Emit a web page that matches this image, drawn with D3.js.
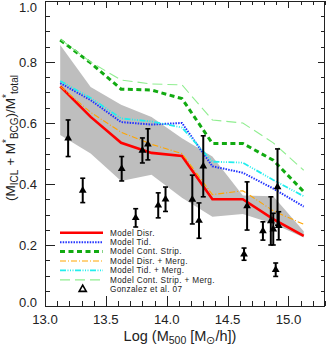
<!DOCTYPE html>
<html>
<head>
<meta charset="utf-8">
<script src="https://cdn.jsdelivr.net/npm/d3@7"></script>
<style>
  html, body { margin: 0; padding: 0; background: #fff; }
  svg { display: block; font-family: "Liberation Sans", Arial, sans-serif; }
</style>
</head>
<body>
<svg id="chart" width="326" height="344"></svg>
<script>
// halo mass bins (log M500)
const massBins = [13.125, 13.375, 13.625, 13.875, 14.125, 14.375, 14.625, 14.875, 15.125];

// model curves
const modelDisr      = [0.720, 0.620, 0.535, 0.502, 0.492, 0.350, 0.350, 0.285, 0.230];
const modelTid       = [0.731, 0.675, 0.603, 0.595, 0.600, 0.458, 0.437, 0.385, 0.326];
const modelCont      = [0.872, 0.797, 0.711, 0.708, 0.680, 0.533, 0.533, 0.478, 0.375];
const modelDisrMerg  = [0.720, 0.635, 0.570, 0.530, 0.500, 0.365, 0.378, 0.312, 0.268];
const modelTidMerg   = [0.738, 0.682, 0.615, 0.605, 0.585, 0.473, 0.470, 0.413, 0.360];
const modelContMerg  = [0.875, 0.800, 0.741, 0.728, 0.725, 0.610, 0.600, 0.535, 0.445];

// scatter band
const bandUpper = [0.856, 0.718, 0.660, 0.620, 0.550, 0.490, 0.362, 0.360, 0.245];
const bandLower = [0.561, 0.500, 0.410, 0.430, 0.355, 0.293, 0.302, 0.270, 0.225];

// Gonzalez et al. 07 observations
const obsMass = [13.19, 13.31, 13.63, 13.745, 13.80, 13.845, 13.93, 13.99, 14.21, 14.265,
                 14.30, 14.635, 14.66, 14.79, 14.855, 14.875, 14.895, 14.91, 14.92];
const obsFrac = [0.550, 0.379, 0.450, 0.289, 0.510, 0.530, 0.330, 0.350, 0.349, 0.280,
                 0.458, 0.170, 0.328, 0.246, 0.279, 0.252, 0.119, 0.390, 0.263];
const obsErr  = [0.060, 0.040, 0.040, 0.030, 0.041, 0.051, 0.041, 0.040, 0.080, 0.058,
                 0.100, 0.020, 0.079, 0.030, 0.079, 0.052, 0.022, 0.125, 0.046];

const xMajor = [13.0, 13.5, 14.0, 14.5, 15.0];
const yMajor = [0.0, 0.2, 0.4, 0.6, 0.8, 1.0];

const series = [
  { name: 'Model Disr.',               values: modelDisr,     color: '#ff0000', width: 2.6, dash: null },
  { name: 'Model Tid.',                values: modelTid,      color: '#2233ff', width: 2,   dash: '1.5,1.2' },
  { name: 'Model Cont. Strip.',        values: modelCont,     color: '#11aa11', width: 3,   dash: '5,3.5' },
  { name: 'Model Disr. + Merg.',       values: modelDisrMerg, color: '#ffa500', width: 1.1, dash: '6,2,1,2' },
  { name: 'Model Tid. + Merg.',        values: modelTidMerg,  color: '#22eeee', width: 1.8, dash: '6,1.5,1,1.5,1,1.5,1,1.5' },
  { name: 'Model Cont. Strip. + Merg.',values: modelContMerg, color: '#90ee90', width: 1.1, dash: '10,5' }
];

const svg = d3.select('#chart');
const plotLeft = 45, plotRight = 325, plotTop = 1, plotBottom = 306;
const ink = '#222';

const x = d3.scaleLinear().domain([13.0, 15.3]).range([plotLeft, plotRight]);
const y = d3.scaleLinear().domain([0, 1]).range([plotBottom, plotTop]);

// 灰色带
const band = massBins.map((m, i) => ({ m, lo: bandLower[i], hi: bandUpper[i] }));
svg.append('path')
  .datum(band)
  .attr('fill', '#bebebe')
  .attr('d', d3.area().x(d => x(d.m)).y0(d => y(d.lo)).y1(d => y(d.hi)));

// 模型曲线
const line = d3.line().x(d => x(d.m)).y(d => y(d.v));
series.forEach(s => {
  svg.append('path')
    .datum(massBins.map((m, i) => ({ m, v: s.values[i] })))
    .attr('fill', 'none')
    .attr('stroke', s.color)
    .attr('stroke-width', s.width)
    .attr('stroke-dasharray', s.dash)
    .attr('d', line);
});

// 观测点 + 误差棒
const obs = obsMass.map((m, i) => ({ m, f: obsFrac[i], e: obsErr[i] }));
const obsG = svg.append('g');
obsG.selectAll('line.err')
  .data(obs).join('line')
  .attr('class', 'err')
  .attr('x1', d => x(d.m)).attr('x2', d => x(d.m))
  .attr('y1', d => y(d.f - d.e)).attr('y2', d => y(d.f + d.e))
  .attr('stroke', '#000').attr('stroke-width', 2);
['lo', 'hi'].forEach(k => {
  obsG.selectAll('line.cap-' + k)
    .data(obs).join('line')
    .attr('class', 'cap-' + k)
    .attr('x1', d => x(d.m) - 2.5).attr('x2', d => x(d.m) + 2.5)
    .attr('y1', d => y(k === 'lo' ? d.f - d.e : d.f + d.e))
    .attr('y2', d => y(k === 'lo' ? d.f - d.e : d.f + d.e))
    .attr('stroke', '#000').attr('stroke-width', 1.6);
});
const tri = d3.symbol().type(d3.symbolTriangle).size(26);
obsG.selectAll('path.tri')
  .data(obs).join('path')
  .attr('class', 'tri')
  .attr('transform', d => `translate(${x(d.m)},${y(d.f)})`)
  .attr('d', tri)
  .attr('fill', '#000');

// 坐标框和刻度
const frame = svg.append('g').attr('stroke', ink).attr('stroke-width', 1).attr('fill', 'none');
frame.append('rect')
  .attr('x', plotLeft + 0.5).attr('y', plotTop + 0.5)
  .attr('width', plotRight - plotLeft - 1).attr('height', plotBottom - plotTop);

const xMinor = d3.range(13.0, 15.301, 0.1).filter(v => !xMajor.some(t => Math.abs(t - v) < 1e-6));
const yMinor = d3.range(0, 1.001, 0.05).filter(v => !yMajor.some(t => Math.abs(t - v) < 1e-6));

const xTicks = xMajor.map(v => ({ v, big: true })).concat(xMinor.map(v => ({ v, big: false })));
const yTicks = yMajor.map(v => ({ v, big: true })).concat(yMinor.map(v => ({ v, big: false })));

xTicks.forEach(t => {
  const px = Math.round(x(t.v)) + 0.5;
  frame.append('line').attr('x1', px).attr('x2', px)
    .attr('y1', plotBottom).attr('y2', plotBottom - (t.big ? 10 : 5));
  frame.append('line').attr('x1', px).attr('x2', px)
    .attr('y1', plotTop).attr('y2', plotTop + (t.big ? 7 : 4));
});
yTicks.forEach(t => {
  const py = Math.round(y(t.v)) + 0.5;
  frame.append('line').attr('y1', py).attr('y2', py)
    .attr('x1', plotLeft).attr('x2', plotLeft + (t.big ? 10 : 5));
  frame.append('line').attr('y1', py).attr('y2', py)
    .attr('x1', plotRight).attr('x2', plotRight - (t.big ? 7 : 4));
});

// 刻度标签
svg.append('g').selectAll('text')
  .data(xMajor).join('text')
  .attr('x', d => x(d)).attr('y', 324)
  .attr('text-anchor', 'middle')
  .attr('font-size', 13.2)
  .attr('fill', ink)
  .text(d => d.toFixed(1));

// 顶部和底部标签向内收，避免被裁切
svg.append('g').selectAll('text')
  .data(yMajor).join('text')
  .attr('x', 37)
  .attr('y', d => Math.min(Math.max(y(d), 7), 302.5))
  .attr('dy', '0.35em')
  .attr('text-anchor', 'end')
  .attr('font-size', 13)
  .attr('fill', ink)
  .text(d => d.toFixed(1));

// 轴标题
const xTitle = svg.append('text')
  .attr('x', 180).attr('y', 341)
  .attr('text-anchor', 'middle')
  .attr('font-size', 14.5)
  .attr('fill', ink);
xTitle.append('tspan').text('Log (M');
xTitle.append('tspan').attr('font-size', 10.5).attr('dy', 2.5).text('500');
xTitle.append('tspan').attr('dy', -2.5).text(' [M');
xTitle.append('tspan').attr('font-size', 10.5).attr('dy', 2.5).text('⊙');
xTitle.append('tspan').attr('dy', -2.5).text('/h])');

const yTitle = svg.append('text')
  .attr('transform', 'translate(15,138) rotate(-90)')
  .attr('text-anchor', 'middle')
  .attr('font-size', 13.5)
  .attr('fill', ink);
yTitle.append('tspan').text('(M');
yTitle.append('tspan').attr('font-size', 10).attr('dy', 3).text('ICL');
yTitle.append('tspan').attr('dy', -3).text(' + M');
yTitle.append('tspan').attr('font-size', 10).attr('dy', -5).text('*');
yTitle.append('tspan').attr('font-size', 10).attr('dy', 8).text('BCG');
yTitle.append('tspan').attr('dy', -3).text(')/M');
yTitle.append('tspan').attr('font-size', 10).attr('dy', -5).text('*');
yTitle.append('tspan').attr('font-size', 10).attr('dy', 8).text('total');

// 图例
const legendY0 = 232.7, legendStep = 9.43;
const legend = svg.append('g');
series.forEach((s, i) => {
  const ly = legendY0 + i * legendStep;
  legend.append('line')
    .attr('x1', 60).attr('x2', 103).attr('y1', ly).attr('y2', ly)
    .attr('stroke', s.color)
    .attr('stroke-width', s.width)
    .attr('stroke-dasharray', s.dash);
  legend.append('text')
    .attr('x', 110).attr('y', ly).attr('dy', '0.35em')
    .attr('font-size', 8.2).attr('letter-spacing', 0.35).attr('fill', ink)
    .text(s.name);
});
const lyObs = legendY0 + series.length * legendStep;
legend.append('path')
  .attr('transform', `translate(82.7,${lyObs})`)
  .attr('d', d3.symbol().type(d3.symbolTriangle).size(22)())
  .attr('fill', 'none').attr('stroke', '#000').attr('stroke-width', 1.6);
legend.append('text')
  .attr('x', 110).attr('y', lyObs).attr('dy', '0.35em')
  .attr('font-size', 8.2).attr('letter-spacing', 0.35).attr('fill', ink)
  .text('Gonzalez et al. 07');
</script>
</body>
</html>
